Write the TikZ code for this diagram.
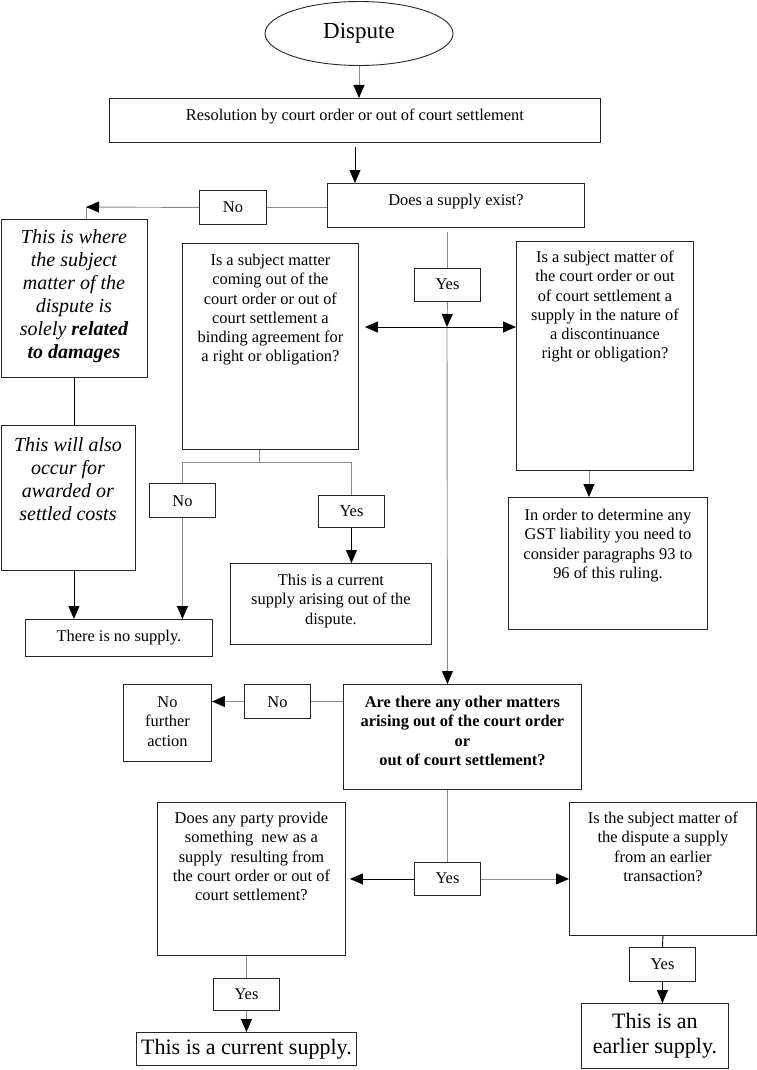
\documentclass[tikz,border=0pt]{standalone}
\usepackage{fontspec}
\setmainfont{Liberation Serif}
\usetikzlibrary{positioning,arrows.meta,shapes.geometric}
\newcommand{\txt}{\fontsize{16.4}{19.3}\selectfont}
\newcommand{\itxt}{\fontsize{20}{23}\selectfont\itshape}
\newcommand{\btxt}{\fontsize{22}{25}\selectfont}
\newcommand{\boxtxt}[4]{\parbox[c][#2][t]{\dimexpr#1-6pt\relax}{\centering\rule{0pt}{#3}#4}}
\tikzset{
  qbox/.style={draw=black!85, line width=0.9pt, inner xsep=3pt, inner ysep=0pt, anchor=north west, font=\txt},
  flowline/.style={draw=black!45, line width=0.9pt},
  darkline/.style={draw=black, line width=0.9pt},
  flowarrow/.style={flowline, -{Triangle[length=13pt, width=11pt, color=black]}},
  darkarrow/.style={darkline, -{Triangle[length=13pt, width=11pt, color=black]}}
}
\begin{document}
\begin{tikzpicture}[x=1pt, y=-1pt]
  \useasboundingbox (0,0) rectangle (757,1070);
  \node[ellipse, draw=black!85, line width=0.9pt, minimum width=188pt, minimum height=64pt, inner sep=0pt, font=\fontsize{23}{26}\selectfont] (dispute) at (359,33.5) {\raisebox{3pt}{Dispute}};
  \node[qbox] (resol) at (109,98) {\boxtxt{491pt}{44pt}{22pt}{Resolution by court order or out of court settlement}};
  \node[qbox] (does) at (327,183) {\boxtxt{257pt}{44pt}{22pt}{Does a supply exist?}};
  \node[qbox] (noA) at (199,190) {\boxtxt{67pt}{34pt}{22pt}{No}};
  \node[qbox, font=\itxt] (where) at (0.5,219) {\boxtxt{146pt}{158pt}{24pt}{This is where\\ the subject\\ matter of the\\ dispute is\\ solely {\bfseries related\\ to damages}}};
  \node[qbox, font=\itxt] (also) at (0.5,425) {\boxtxt{134pt}{145pt}{26pt}{This will also\\ occur for\\ awarded or\\ settled costs}};
  \node[qbox] (nosupply) at (25,619) {\boxtxt{187pt}{37pt}{22pt}{There is no supply.}};
  \node[qbox] (binding) at (182,243) {\boxtxt{176pt}{206pt}{22pt}{Is a subject matter\\ coming out of the\\ court order or out of\\ court settlement a\\ binding agreement for\\ a right or obligation?}};
  \node[qbox] (noB) at (149,483) {\boxtxt{66pt}{34pt}{23pt}{No}};
  \node[qbox] (yesB) at (318,495) {\boxtxt{66pt}{32pt}{21pt}{Yes}};
  \node[qbox] (current1) at (230,563) {\boxtxt{201pt}{81pt}{22pt}{This is a current\\ supply arising out of the\\ dispute.}};
  \node[qbox] (yesA) at (414,268) {\boxtxt{66pt}{33pt}{21pt}{Yes}};
  \node[qbox] (discont) at (516,241) {\boxtxt{177pt}{229pt}{21pt}{Is a subject matter of\\ the court order or out\\ of court settlement a\\ supply in the nature of\\ a discontinuance\\ right or obligation?}};
  \node[qbox] (gst) at (508,497) {\boxtxt{199pt}{132pt}{23pt}{In order to determine any\\ GST liability you need to\\ consider paragraphs 93 to\\ 96 of this ruling.}};
  \node[qbox, font=\txt\bfseries] (other) at (343,684) {\boxtxt{238pt}{105pt}{23pt}{Are there any other matters\\ arising out of the court order\\ or\\ out of court settlement?}};
  \node[qbox] (noC) at (244,684) {\boxtxt{66pt}{34pt}{23pt}{No}};
  \node[qbox] (nofurther) at (123,684) {\boxtxt{88pt}{77pt}{23pt}{No\\ further\\ action}};
  \node[qbox] (newsup) at (157,802) {\boxtxt{188pt}{153pt}{21pt}{Does any party provide\\ something\ \ new as a\\ supply\ \ resulting from\\ the court order or out of\\ court settlement?}};
  \node[qbox] (yesC) at (414,862) {\boxtxt{66pt}{33pt}{21pt}{Yes}};
  \node[qbox] (earlierq) at (569,802) {\boxtxt{187pt}{133pt}{21pt}{Is the subject matter of\\ the dispute a supply\\ from an earlier\\ transaction?}};
  \node[qbox] (yesD) at (213,978) {\boxtxt{66pt}{32pt}{21pt}{Yes}};
  \node[qbox, font=\btxt] (current2) at (136,1032) {\boxtxt{220pt}{33pt}{22pt}{This is a current supply.}};
  \node[qbox] (yesE) at (629,947) {\boxtxt{66pt}{34pt}{22pt}{Yes}};
  \node[qbox, font=\btxt] (earlier) at (581,1003) {\boxtxt{147pt}{65pt}{25pt}{This is an\\ earlier supply.}};
  \coordinate (nocorner) at (86,207);
  \coordinate (hub) at (447,327);
  \coordinate (bsplit) at (259,462);
  \draw[flowarrow] (dispute.south) -- (dispute.south |- resol.north);
  \draw[darkarrow, shorten <=4pt] (resol.south) -- (resol.south |- does.north);
  \draw[flowline] (noA.east) -- (noA.east -| does.west);
  \draw[flowarrow] (noA.west) -- (nocorner);
  \draw[flowline] (nocorner) -- (nocorner |- where.north);
  \draw[flowline, shorten <=4pt] (yesA.north |- does.south) -- (yesA.north);
  \draw[flowarrow] (yesA.south) -- (hub);
  \draw[flowarrow] (hub) -- (yesA.south |- other.north);
  \draw[darkarrow, shorten >=6pt] (hub) -- (hub -| binding.east);
  \draw[darkarrow] (hub) -- (hub -| discont.west);
  \draw[flowarrow] ([xshift=-16pt]discont.south) -- ([xshift=-16pt]discont.south |- gst.north);
  \draw[flowline] (bsplit |- binding.south) -- (bsplit);
  \draw[flowline] (bsplit) -| (noB.north);
  \draw[flowline] (bsplit) -| (yesB.north);
  \draw[flowarrow] (noB.south) -- (noB.south |- nosupply.north);
  \draw[darkarrow] (yesB.south) -- (yesB.south |- current1.north);
  \draw[darkline] (where.south) -- (where.south |- also.north);
  \draw[darkarrow] (where.south |- also.south) -- (where.south |- nosupply.north);
  \draw[flowline] (noC.east) -- (noC.east -| other.west);
  \draw[flowarrow] (noC.west) -- (noC.west -| nofurther.east);
  \draw[flowline] (yesC.north |- other.south) -- (yesC.north);
  \draw[darkarrow, shorten >=4pt] (yesC.west) -- (yesC.west -| newsup.east);
  \draw[flowarrow] (yesC.east) -- (yesC.east -| earlierq.west);
  \draw[flowline] (yesD.north |- newsup.south) -- (yesD.north);
  \draw[flowarrow] (yesD.south) -- (yesD.south |- current2.north);
  \draw[darkline] (earlierq.south) -- (yesE.north);
  \draw[darkarrow] (yesE.south) -- (yesE.south |- earlier.north);
\end{tikzpicture}
\end{document}
